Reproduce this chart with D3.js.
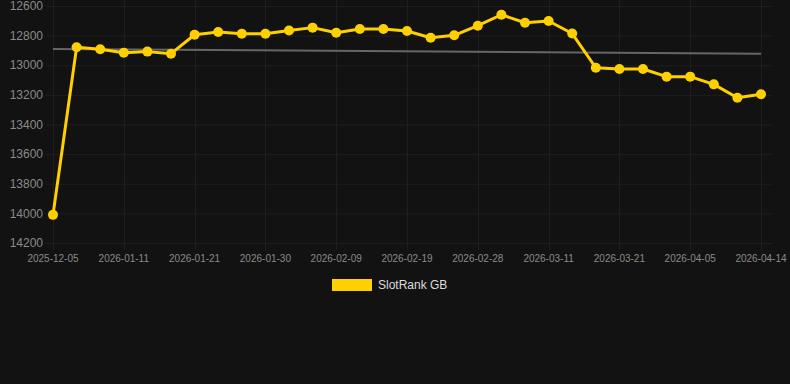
<!DOCTYPE html>
<html><head><meta charset="utf-8">
<script src="https://cdn.jsdelivr.net/npm/d3@7"></script>
<style>
html,body{margin:0;padding:0;background:#121212;}
svg{display:block;font-family:"Liberation Sans",Arial,sans-serif;}
</style></head><body>
<svg id="c" width="790" height="384"></svg>
<script>
const dates = ["2025-12-05","2025-12-19","2026-01-04","2026-01-11","2026-01-14","2026-01-18","2026-01-21","2026-01-24","2026-01-27","2026-01-30","2026-02-02","2026-02-06","2026-02-09","2026-02-12","2026-02-16","2026-02-19","2026-02-22","2026-02-25","2026-02-28","2026-03-04","2026-03-08","2026-03-11","2026-03-14","2026-03-18","2026-03-21","2026-03-26","2026-03-31","2026-04-05","2026-04-08","2026-04-11","2026-04-14"];
const ranks = [14010,12879,12892,12915,12908,12922,12794,12776,12787,12787,12765,12746,12780,12755,12755,12769,12814,12798,12733,12659,12713,12701,12786,13017,13025,13025,13077,13077,13129,13219,13196];
const trend = [12890,12922];
const yTicks = [12600,12800,13000,13200,13400,13600,13800,14000,14200];
const xTickLabels = ["2025-12-05","2026-01-11","2026-01-21","2026-01-30","2026-02-09","2026-02-19","2026-02-28","2026-03-11","2026-03-21","2026-04-05","2026-04-14"];
const seriesName = "SlotRank GB";

const svg = d3.select("#c");
const x = d3.scalePoint().domain(dates).range([53,761]);
const y = d3.scaleLinear().domain([12600,14200]).range([6,243]);

// horizontal grid
svg.append("g").selectAll("line").data(yTicks).join("line")
  .attr("x1",46).attr("x2",772).attr("y1",d=>y(d)+0.5).attr("y2",d=>y(d)+0.5)
  .attr("stroke","#1e1e1e").attr("stroke-width",1);
// vertical grid at labelled ticks
const tickIdx = dates.map((d,i)=>i).filter(i=>i%3===0);
svg.append("g").selectAll("line").data(tickIdx).join("line")
  .attr("x1",i=>Math.round(x(dates[i]))+0.5).attr("x2",i=>Math.round(x(dates[i]))+0.5)
  .attr("y1",0).attr("y2",250)
  .attr("stroke","#1e1e1e").attr("stroke-width",1);

// y labels
svg.append("g").selectAll("text").data(yTicks).join("text")
  .attr("x",43).attr("y",d=>y(d)).attr("dy","0.35em").attr("text-anchor","end")
  .attr("fill","#8a8a8a").attr("font-size",12).text(d=>d);
// x labels
svg.append("g").selectAll("text").data(tickIdx).join("text")
  .attr("x",(i,k)=>x(dates[i])).attr("y",262).attr("text-anchor","middle")
  .attr("fill","#8a8a8a").attr("font-size",10).text((i,k)=>xTickLabels[k]);

// trend line
svg.append("line")
  .attr("x1",x(dates[0])).attr("x2",x(dates[dates.length-1]))
  .attr("y1",y(trend[0])).attr("y2",y(trend[1]))
  .attr("stroke","#666").attr("stroke-width",2);

// series
const line = d3.line().x((d,i)=>x(dates[i])).y(d=>y(d));
svg.append("path").datum(ranks).attr("d",line)
  .attr("fill","none").attr("stroke","#ffd000").attr("stroke-width",3).attr("stroke-linejoin","round");
svg.append("g").selectAll("circle").data(ranks).join("circle")
  .attr("cx",(d,i)=>x(dates[i])).attr("cy",d=>y(d)).attr("r",5).attr("fill","#ffd000");

// legend
svg.append("rect").attr("x",332).attr("y",279).attr("width",40).attr("height",12).attr("fill","#ffd000");
svg.append("text").attr("x",378).attr("y",285).attr("dy","0.35em").attr("fill","#dddddd").attr("font-size",12).text(seriesName);
</script>
</body></html>
